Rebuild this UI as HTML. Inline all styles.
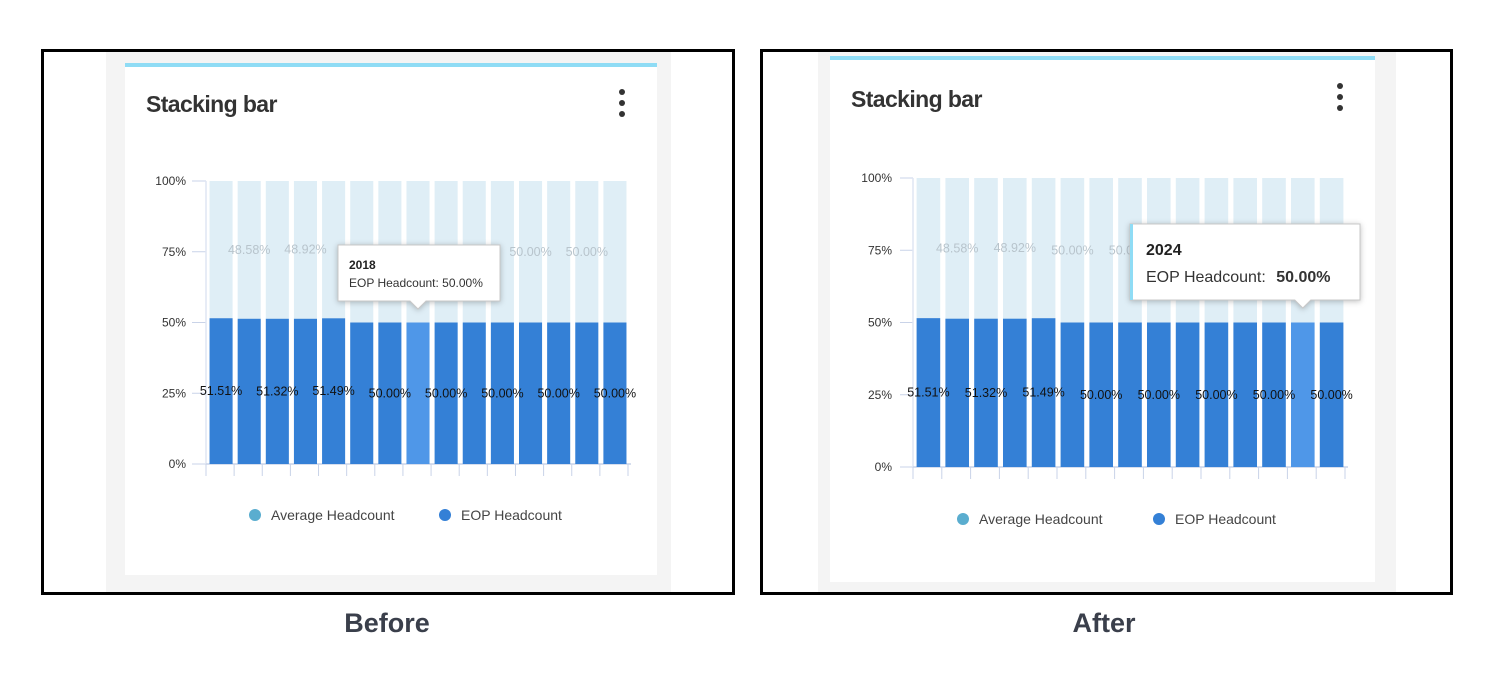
<!DOCTYPE html>
<html><head><meta charset="utf-8">
<style>
html,body{margin:0;padding:0;background:#fff;width:1493px;height:682px;overflow:hidden}
svg{display:block;font-family:"Liberation Sans",sans-serif}
</style></head>
<body>
<svg id="root" width="1493" height="682" viewBox="0 0 1493 682">
  <g>
    <rect x="42.5" y="50.5" width="691" height="543" fill="#fff" stroke="#000" stroke-width="3"/>
    <rect x="106" y="52" width="565" height="540" fill="#f4f4f4"/>
    <rect x="125" y="63" width="532" height="512" fill="#fff"/>
    <rect x="125" y="63" width="532" height="4" fill="#8fdcf5"/>
    <text x="146" y="112" font-size="23" font-weight="bold" fill="#333" style="letter-spacing:-0.6px">Stacking bar</text>
    <g fill="#333">
      <circle cx="622" cy="92" r="3"/><circle cx="622" cy="103" r="3"/><circle cx="622" cy="114" r="3"/>
    </g>
    <g id="chartA"></g>
  </g>
  <g>
    <rect x="761.5" y="50.5" width="690" height="543" fill="#fff" stroke="#000" stroke-width="3"/>
    <rect x="818" y="52" width="578" height="540" fill="#f4f4f4"/>
    <rect x="830" y="56" width="545" height="526" fill="#fff"/>
    <rect x="830" y="56" width="545" height="4" fill="#8fdcf5"/>
    <text x="851" y="107" font-size="23" font-weight="bold" fill="#333" style="letter-spacing:-0.6px">Stacking bar</text>
    <g fill="#333">
      <circle cx="1340" cy="86" r="3"/><circle cx="1340" cy="97" r="3"/><circle cx="1340" cy="108" r="3"/>
    </g>
    <g id="chartB"></g>
  </g>
  <text x="387" y="632" font-size="27" font-weight="bold" fill="#3a3f4b" text-anchor="middle">Before</text>
  <text x="1104" y="632" font-size="27" font-weight="bold" fill="#3a3f4b" text-anchor="middle">After</text>
</svg>
<script>
const categories = ['2011','2012','2013','2014','2015','2016','2017','2018','2019','2020','2021','2022','2023','2024','2025'];
const eopValues = [51.51,51.32,51.32,51.32,51.49,50,50,50,50,50,50,50,50,50,50];
const avgValues = [48.49,48.58,48.68,48.92,48.51,50,50,50,50,50,50,50,50,50,50];
const yTicks = [0,25,50,75,100];
const yTickLabels = ['0%','25%','50%','75%','100%'];
const seriesNames = ['Average Headcount','EOP Headcount'];

const NS='http://www.w3.org/2000/svg';
function mk(tag, attrs, parent){const e=document.createElementNS(NS,tag);for(const k in attrs)e.setAttribute(k,attrs[k]);parent.appendChild(e);return e;}

function drawChart(g, cfg){
  const n=categories.length;
  const pitch=(cfg.x1-cfg.x0)/n;
  const bw=pitch*0.82;
  const xs=i=>cfg.x0+i*pitch+(pitch-bw)/2;
  const ys=v=>cfg.yb-(v/100)*(cfg.yb-cfg.yt);
  yTicks.forEach((t,i)=>{
    const tl=mk('line',{x1:cfg.tickX,x2:cfg.x0-1,y1:ys(t),y2:ys(t),stroke:'#c9d3e8','stroke-width':1},g);
    
    
    const lb=mk('text',{x:cfg.labelX,y:ys(t)+4,'font-size':cfg.tickFont,fill:'#333','text-anchor':'end'},g);
    lb.textContent=yTickLabels[i];
    
    
  });
  const ax=mk('line',{x1:cfg.x0-1,x2:cfg.x0-1,y1:cfg.yt,y2:cfg.yb,stroke:'#dfe6f3','stroke-width':1.5},g);
  
  
  const xa=mk('line',{x1:cfg.x0-1,x2:cfg.x1+2,y1:cfg.yb,y2:cfg.yb,stroke:'#c9d3e8','stroke-width':1.5},g);
  
  
  for(let i=0;i<=n;i++){
    const xx=cfg.x0-1+i*pitch;
    const tk=mk('line',{x1:xx,x2:xx,y1:cfg.yb,y2:cfg.yb+12,stroke:'#c9d3e8','stroke-width':1},g);
    
    
  }
  categories.forEach((c,i)=>{
    const e=eopValues[i];
    const top=mk('rect',{x:xs(i),y:ys(100),width:bw,height:ys(e)-ys(100),fill:'#dfeef6'},g);
    
    
    const bot=mk('rect',{x:xs(i),y:ys(e),width:bw,height:ys(0)-ys(e),fill:i===cfg.hi?'#4f97e8':'#3480d6'},g);
    
    
  });
  categories.forEach((c,i)=>{
    const cx=xs(i)+bw/2;
    if(i%2===0){
      const t=mk('text',{x:cx,y:ys(eopValues[i]/2)+4,'font-size':cfg.valFont,fill:'#111','text-anchor':'middle'},g);
      t.textContent=eopValues[i].toFixed(2)+'%';
      
      
    } else {
      const t=mk('text',{x:cx,y:ys(eopValues[i]+avgValues[i]/2)+4,'font-size':cfg.valFont,fill:'#b8c4cc','text-anchor':'middle'},g);
      t.textContent=avgValues[i].toFixed(2)+'%';
      
      
    }
  });
  const colors=['#5aadcf','#3480d6'];
  seriesNames.forEach((s,k)=>{
    const lg=mk('g',{},g);
    
    
    mk('circle',{cx:cfg.legX[k],cy:cfg.legY,r:6,fill:colors[k]},lg);
    const t=mk('text',{x:cfg.legX[k]+16,y:cfg.legY+5,'font-size':14,fill:'#444'},lg);
    t.textContent=s;
  });
  const tt=mk('g',{},g);
  
  
  const T=cfg.tip;
  const hx=xs(cfg.hi)+bw/2;
  mk('path',{d:`M${T.x},${T.y} h${T.w} v${T.h} H${hx+8} l-8,8 l-8,-8 H${T.x} Z`,fill:'#fff',stroke:'#c8c8c8','stroke-width':1,style:'filter:drop-shadow(0 1px 3px rgba(0,0,0,0.25))'},tt);
  if(T.accent) mk('rect',{x:T.x,y:T.y,width:3,height:T.h,fill:'#8fdcf5'},tt);
  const t1=mk('text',{x:T.x+T.pad,y:T.y+T.l1,'font-size':T.f1,'font-weight':'bold',fill:'#222'},tt);
  t1.textContent=categories[cfg.hi];
  const t2=mk('text',{x:T.x+T.pad,y:T.y+T.l2,'font-size':T.f2,fill:'#333'},tt);
  t2.textContent='EOP Headcount: ';
  const t3=mk('tspan',{'font-weight':T.boldVal?'bold':'normal',dx:T.boldVal?6:0},t2);
  t3.textContent=eopValues[cfg.hi].toFixed(2)+'%';
}

drawChart(document.getElementById('chartA'),{x0:207,x1:629,yt:181,yb:464,tickX:192,labelX:186,tickFont:12,valFont:12.5,hi:7,
  legX:[255,445],legY:515,
  tip:{x:338,y:245,w:162,h:56,pad:11,l1:24,l2:42,f1:12,f2:12,boldVal:false,accent:false}});
drawChart(document.getElementById('chartB'),{x0:914,x1:1346,yt:178,yb:467,tickX:900,labelX:892,tickFont:12,valFont:12.5,hi:13,
  legX:[963,1159],legY:519,
  tip:{x:1130,y:224,w:230,h:76,pad:16,l1:31,l2:58,f1:16,f2:16,boldVal:true,accent:true}});
</script>
</body></html>
